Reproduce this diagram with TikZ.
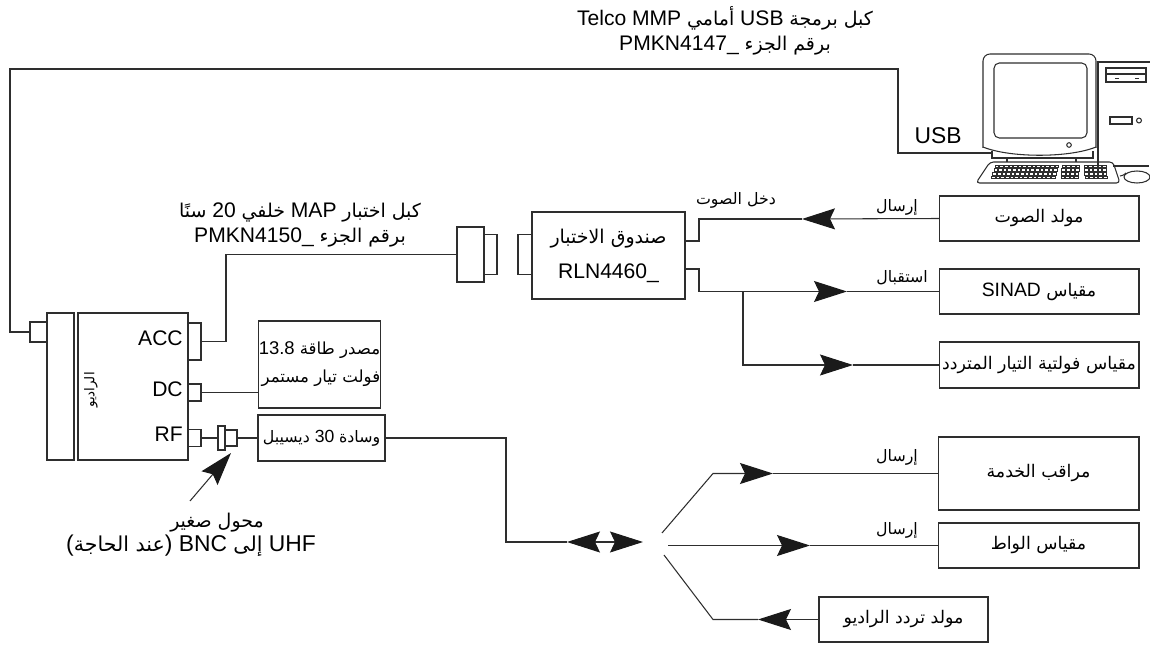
\documentclass[tikz,border=0pt]{standalone}
\usepackage{fontspec}
\setmainfont{Liberation Sans}
\newfontfamily\arabicfont[Script=Arabic,Scale=0.9]{DejaVu Sans}
\TeXXeTstate=1
\usepackage{tikz}
\usetikzlibrary{arrows.meta, positioning, calc}
\definecolor{wiregray}{HTML}{2E2E2E}
\definecolor{tipblack}{HTML}{1A1A1A}
\newcommand{\artxt}[1]{{\arabicfont\beginR #1\endR}}

\begin{document}
\begin{tikzpicture}[
    x=0.02cm, y=-0.02cm,
    line width=0.6pt,
    unit/.style={draw=wiregray, inner sep=0pt, outer sep=0pt},
    box/.style={unit, font=\fontsize{11}{13}\selectfont, align=center},
    lbltext/.style={font=\fontsize{12}{14}\selectfont, inner sep=1pt, align=center},
    sidetext/.style={font=\fontsize{10}{12}\selectfont, inner sep=1pt},
    wire/.style={draw=wiregray},
    fattip/.tip={Stealth[length=0.66cm, width=0.42cm, inset=0.1cm, color=tipblack]},
    bigarrow/.style={wire, -fattip},
    keyline/.style={draw=wiregray, line width=0.3pt},
]
    \useasboundingbox (0,0) rectangle (1150,645);

    % Radio
    \node[unit, minimum width=0.54cm, minimum height=2.94cm] (radiostrip) at (60.5,386.5) {};
    \node[unit, minimum width=2.2cm, minimum height=2.94cm] (radio) at (133,386.5) {};
    \node[rotate=90, font=\fontsize{8.5}{10}\selectfont] (radiolbl) at (91,390) {\artxt{الراديو}};
    \node[unit, minimum width=0.34cm, minimum height=0.4cm] (usbplug) at (38.5,332) {};
    \node[unit, minimum width=0.26cm, minimum height=0.74cm] (accport) at (194.5,341.5) {};
    \node[unit, minimum width=0.26cm, minimum height=0.34cm] (dcport) at (194.5,392.5) {};
    \node[unit, minimum width=0.26cm, minimum height=0.34cm] (rfport) at (194.5,438) {};
    \node[lbltext, anchor=east] (acclbl) at (185,338) {ACC};
    \node[lbltext, anchor=east] (dclbl) at (185,389) {DC};
    \node[lbltext, anchor=east] (rflbl) at (185,434) {RF};

    % Power supply, adapter and pad
    \node[box, minimum width=2.06cm, minimum height=1.74cm, align=right,
          font=\fontsize{10.5}{16}\selectfont] (psu) at (319.5,364.5)
          {13.8 \artxt{مصدر طاقة}\\\artxt{فولت تيار مستمر}};
    \node[unit, minimum width=0.14cm, minimum height=0.48cm] (adapt) at (221.5,438) {};
    \node[unit, minimum width=0.24cm, minimum height=0.32cm] (adaptb) at (231,438) {};
    \node[box, minimum width=2.54cm, minimum height=0.92cm, font=\fontsize{10}{12}\selectfont] (pad) at (321.5,438)
          {\artxt{ديسيبل} 30 \artxt{وسادة}};

    % Test box and MAP cable plug
    \node[unit, minimum width=0.54cm, minimum height=1.1cm] (mapplug) at (470.5,254.5) {};
    \node[unit, minimum width=0.26cm, minimum height=0.8cm] (mapplugb) at (490.5,254.5) {};
    \node[unit, minimum width=0.28cm, minimum height=0.8cm] (tbsock) at (525,254.5) {};
    \node[box, minimum width=3.06cm, minimum height=1.74cm, font=\fontsize{12}{20}\selectfont] (testbox) at (608.5,255.5)
          {\artxt{صندوق الاختبار}\\RLN4460\_};

    % Audio side instruments
    \node[box, minimum width=4cm, minimum height=0.9cm] (audiogen) at (1039,218.5) {\artxt{مولد الصوت}};
    \node[box, minimum width=4cm, minimum height=0.9cm] (sinad) at (1039,291.5) {SINAD \artxt{مقياس}};
    \node[box, minimum width=4cm, minimum height=0.92cm] (acvm) at (1039,365) {\artxt{مقياس فولتية التيار المتردد}};

    % RF side instruments
    \node[box, minimum width=4.02cm, minimum height=1.46cm] (svcmon) at (1038.5,473.5) {\artxt{مراقب الخدمة}};
    \node[box, minimum width=4.02cm, minimum height=0.9cm] (wattm) at (1038.5,545.5) {\artxt{مقياس الواط}};
    \node[box, minimum width=3.38cm, minimum height=0.9cm] (rfgen) at (903.5,619.5) {\artxt{مولد تردد الراديو}};

    % Computer
    \draw[wire, rounded corners=4pt] (983,148) -- (983,54) -- (1096,54) -- (1096,148);
    \draw[wire] (983,147) .. controls (1010,158) and (1069,158) .. (1096,147);
    \draw[wire, rounded corners=3pt] (994,63) rectangle (1087,138);
    \draw[wire] (1069,145) circle[radius=1.3pt];
    \draw[wire] (992,151) -- (992,158) -- (1093,158) -- (1093,151);
    \draw[wire] (1007,158) -- (1007,162) (1076,158) -- (1076,162);
    \draw[wire, rounded corners=2pt] (990,162) -- (1113,162) -- (1120,183) -- (976,183) -- cycle;
    \foreach \r in {0,...,3}{
        \foreach \k in {0,...,13}
            \draw[keyline] (995+\k*4.6-\r*1.2,165+\r*3.6) rectangle ++(3.6,2.6);
        \foreach \k in {0,...,3}
            \draw[keyline] (1062+\k*4.6-\r*0.4,165+\r*3.6) rectangle ++(3.6,2.6);
        \foreach \k in {0,...,4}
            \draw[keyline] (1084+\k*4.6+\r*0.3,165+\r*3.6) rectangle ++(3.6,2.6);
    }
    \draw[wire] (1098,166) -- (1098,62) -- (1150,62);
    \draw[wire] (1113,166) -- (1149,166);
    \draw[wire] (1106,68) rectangle (1146,82);
    \draw[wire] (1106,74) -- (1146,74);
    \draw[keyline] (1115,78) -- (1119,78) (1135,78) -- (1139,78);
    \draw[wire] (1110,117) rectangle (1132,124);
    \draw[wire] (1139,120.5) circle[radius=1.4pt];
    \draw[wire] (1137,177) ellipse[x radius=0.26cm, y radius=0.12cm];
    \draw[wire] (1120,176) .. controls (1124,175) .. (1126,173);

    % Cables
    \coordinate (pcin) at (992,153);
    \draw[wire] (usbplug.west) -- ++(-20,0) |- (898,69) |- (pcin);
    \node[font=\fontsize{13}{15}\selectfont, inner sep=1pt] (usblbl) at (938,136) {USB};
    \node[lbltext] (usbcable) at (725,31)
          {Telco MMP \artxt{أمامي} USB \artxt{كبل برمجة}\\PMKN4147\_ \artxt{برقم الجزء}};

    \draw[wire] (accport.east) -- (226,341.5) |- (mapplug.west);
    \node[lbltext] (mapcable) at (300,225)
          {\artxt{سنًا} 20 \artxt{خلفي} MAP \artxt{كبل اختبار}\\PMKN4150\_ \artxt{برقم الجزء}};

    \draw[wire] (dcport.east) -- (psu.west |- dcport.east);
    \draw[wire] (rfport.east) -- (adapt.west);
    \draw[wire] (adaptb.east) -- (pad.west);

    % Adapter note
    \coordinate (adTail) at (190,501);
    \coordinate (adTip) at (231,453);
    \draw[bigarrow] (adTail) -- (adTip);
    \node[lbltext] (adnote) at (217,523) {\artxt{محول صغير}};
    \node[lbltext, font=\fontsize{13}{15}\selectfont] (adnoteb) at (191,546)
          {(\artxt{عند الحاجة}) BNC \artxt{إلى} UHF};

    % Audio paths
    \coordinate (afTip) at (802,219);
    \coordinate (tbAudio) at (685,241);
    \draw[bigarrow] (audiogen.west) -- (afTip);
    \draw[wire] (afTip) -- (699,219) |- (tbAudio);
    \node[sidetext] (afinlbl) at (736,200) {\artxt{دخل الصوت}};
    \node[sidetext] (aftxlbl) at (897,207) {\artxt{إرسال}};

    \coordinate (tbRx) at (685,269);
    \coordinate (rxTip) at (847,291.5);
    \coordinate (rxSplit) at (743,291.5);
    \coordinate (acTip) at (853,365);
    \draw[bigarrow] (tbRx) -- (699,269) |- (rxTip);
    \draw[wire] (rxTip) -- (sinad.west);
    \draw[bigarrow] (rxSplit) |- (acTip);
    \draw[wire] (acTip) -- (acvm.west);
    \node[sidetext] (rxlbl) at (902,278) {\artxt{استقبال}};

    % RF paths
    \coordinate (rfJackL) at (567,542);
    \coordinate (rfJackR) at (643,542);
    \draw[wire] (pad.east) -| (506,542) -- (rfJackL);
    \draw[wire, fattip-fattip] (rfJackL) -- (rfJackR);

    \coordinate (fanUp) at (662,533);
    \coordinate (fanUpBend) at (713,473.5);
    \coordinate (smTip) at (773,473.5);
    \draw[bigarrow] (fanUp) -- (fanUpBend) -- (smTip);
    \draw[wire] (smTip) -- (svcmon.west);
    \node[sidetext] (smlbl) at (897,457) {\artxt{إرسال}};

    \coordinate (fanMid) at (668,545.5);
    \coordinate (wmTip) at (810,545.5);
    \draw[bigarrow] (fanMid) -- (wmTip);
    \draw[wire] (wmTip) -- (wattm.west);
    \node[sidetext] (wmlbl) at (897,530) {\artxt{إرسال}};

    \coordinate (fanLow) at (664,555);
    \coordinate (fanLowBend) at (713,619.5);
    \coordinate (rgTip) at (758,619.5);
    \draw[bigarrow] (rfgen.west) -- (rgTip);
    \draw[wire] (rgTip) -- (fanLowBend) -- (fanLow);
\end{tikzpicture}
\end{document}
